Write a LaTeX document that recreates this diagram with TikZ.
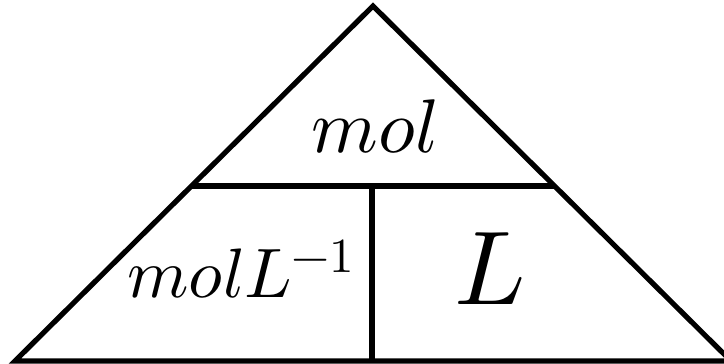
\documentclass[tikz,border=0pt]{standalone}
\usepackage{unicode-math}
\begin{document}
\begin{tikzpicture}[x=1pt,y=1pt,
  edge/.style={line width=5.2pt,line join=miter},
  lbl/.style={inner sep=0pt,anchor=base}]
\useasboundingbox (0,0) rectangle (724,364);
\coordinate (apex) at (373,358);
\coordinate (bl) at (15,3);
\coordinate (br) at (731,3);
\coordinate (hl) at (191.5,178);
\coordinate (hr) at (554.5,178);
\coordinate (vt) at (372,178);
\coordinate (vb) at (372,3);
\draw[edge] (bl) -- (apex) -- (br) -- cycle;
\draw[edge] (hl) -- (hr);
\draw[edge] (vt) -- (vb);
\node[lbl] (top) at (375,211) {\fontsize{76}{80}\selectfont $mol$};
\node[lbl] (left) at (241,66) {\fontsize{70}{74}\selectfont $molL^{-1}$};
\node[lbl] (right) at (490,59) {\fontsize{105}{110}\selectfont $L$};
\end{tikzpicture}
\end{document}
